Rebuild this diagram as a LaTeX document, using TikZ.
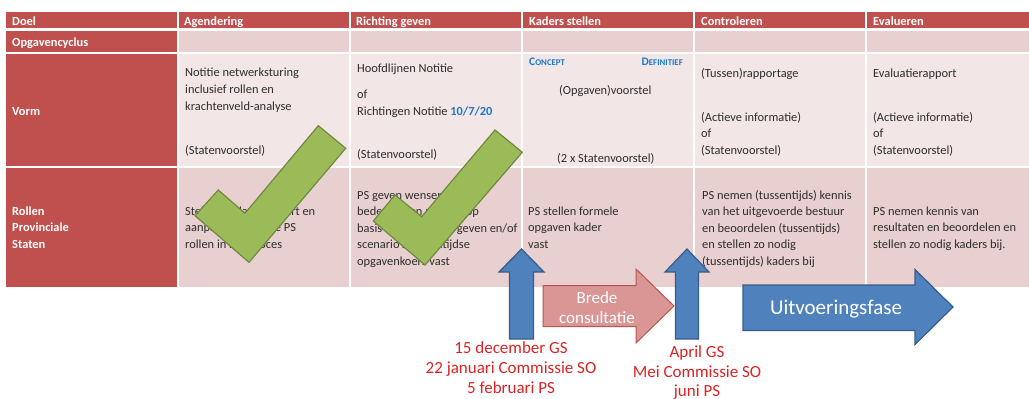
\documentclass[tikz,border=0pt]{standalone}
\usepackage{fontspec}
\setmainfont{Carlito}
\definecolor{hdr}{RGB}{192,80,77}
\definecolor{rowA}{RGB}{232,208,208}
\definecolor{rowB}{RGB}{242,230,230}
\definecolor{txt}{RGB}{45,45,45}
\definecolor{chkfill}{RGB}{155,187,89}
\definecolor{chkdraw}{RGB}{113,137,63}
\definecolor{bluefill}{RGB}{79,129,189}
\definecolor{bluedraw}{RGB}{56,93,138}
\definecolor{pinkfill}{RGB}{217,150,148}
\definecolor{pinkdraw}{RGB}{185,85,80}
\definecolor{redtxt}{RGB}{220,35,35}
\definecolor{bluetxt}{RGB}{30,120,200}
\newcommand\tx[4]{\node[t] (#1) at (#2,#3) {#4};}
\newcommand\hx[4]{\node[h] (#1) at (#2,#3) {#4};}
\newcommand\rx[4]{\node[r] (#1) at (#2,#3) {#4};}
\begin{document}
\begin{tikzpicture}[x=1pt,y=-1pt,
  t/.style={font=\fontsize{12.4}{14}\selectfont, text=txt, inner sep=0pt, anchor=base west},
  h/.style={font=\fontsize{12.4}{14}\selectfont\bfseries, text=white, inner sep=0pt, anchor=base west},
  r/.style={font=\fontsize{17}{20}\selectfont, text=redtxt, inner sep=0pt, anchor=base},
  chk/.style={fill=chkfill, draw=chkdraw, line width=1.2pt, line join=miter},
  barrow/.style={fill=bluefill, draw=bluedraw, line width=1.2pt},
  parrow/.style={fill=pinkfill, draw=pinkdraw, line width=1pt},
  sep/.style={draw=white, line width=1.5pt}]
\useasboundingbox (0,0) rectangle (1029,399);
% table backgrounds
\fill[hdr] (6,12) rectangle (1029,29);
\fill[hdr] (6,29) rectangle (178,287);
\fill[rowA] (178,29) rectangle (1029,53);
\fill[rowB] (178,53) rectangle (1029,167);
\fill[rowA] (178,167) rectangle (1029,287);
% white grid
\draw[draw=white, line width=3pt] (6,29.5) -- (1029,29.5);
\draw[sep] (6,53) -- (1029,53);
\draw[sep] (6,167) -- (1029,167);
\foreach \xx in {178,350,522,694,866} {\draw[sep] (\xx,12) -- (\xx,287);}
% header
\hx{h1}{12}{25}{Doel}
\hx{h2}{184}{25}{Agendering}
\hx{h3}{356}{25}{Richting geven}
\hx{h4}{529}{25}{Kaders stellen}
\hx{h5}{701}{25}{Controleren}
\hx{h6}{873}{25}{Evalueren}
\hx{opg}{12}{46.5}{Opgavencyclus}
\hx{vorm}{12}{115}{Vorm}
\hx{rol1}{12}{215}{Rollen}
\hx{rol2}{12}{231.5}{Provinciale}
\hx{rol3}{12}{248}{Staten}
% Vorm row
\tx{a1}{185}{76}{Notitie netwerksturing}
\tx{a2}{185}{93}{inclusief rollen en}
\tx{a3}{185}{110}{krachtenveld-analyse}
\tx{a4}{185}{154}{(Statenvoorstel)}
\tx{b1}{357}{72}{Hoofdlijnen Notitie}
\tx{b2}{357}{98}{of}
\tx{b3}{357}{115}{Richtingen Notitie {\bfseries\color{bluetxt}10/7/20}}
\tx{b4}{357}{158}{(Statenvoorstel)}
\node[inner sep=0pt, anchor=base west, text=bluetxt, font=\bfseries] (conc) at (529,65.5) {\fontsize{11.5}{13}\selectfont C\fontsize{8.8}{10}\selectfont ONCEPT};
\node[inner sep=0pt, anchor=base east, text=bluetxt, font=\bfseries] (defi) at (683,65.5) {\fontsize{11.5}{13}\selectfont D\fontsize{8.8}{10}\selectfont EFINITIEF};
\tx{c1}{559}{94}{(Opgaven)voorstel}
\tx{c2}{557}{162}{(2 x Statenvoorstel)}
\tx{d1}{701}{77}{(Tussen)rapportage}
\tx{d2}{701}{121}{(Actieve informatie)}
\tx{d3}{701}{137}{of}
\tx{d4}{701}{154}{(Statenvoorstel)}
\tx{e1}{873}{77}{Evaluatierapport}
\tx{e2}{873}{121}{(Actieve informatie)}
\tx{e3}{873}{137}{of}
\tx{e4}{873}{154}{(Statenvoorstel)}
% Rollen row
\tx{ra1}{185}{215}{Stelt agenda vast, start en}
\tx{ra2}{185}{231.5}{aanpak, bepaalt de PS}
\tx{ra3}{185}{248}{rollen in het proces}
\tx{rb1}{357}{199}{PS geven wensen en}
\tx{rb2}{357}{215.5}{bedenkingen mee en op}
\tx{rb3}{357}{232}{basis van de notitie geven en/of}
\tx{rb4}{357}{248.5}{scenario's tussentijdse}
\tx{rb5}{357}{265}{opgavenkoers vast}
\tx{rc1}{528}{215}{PS stellen formele}
\tx{rc2}{528}{231.5}{opgaven kader}
\tx{rc3}{528}{248}{vast}
\tx{rd1}{702}{199}{PS nemen (tussentijds) kennis}
\tx{rd2}{702}{215.5}{van het uitgevoerde bestuur}
\tx{rd3}{702}{232}{en beoordelen (tussentijds)}
\tx{rd4}{702}{248.5}{en stellen zo nodig}
\tx{rd5}{702}{265}{(tussentijds) kaders bij}
\tx{re1}{873}{215}{PS nemen kennis van}
\tx{re2}{873}{231.5}{resultaten en beoordelen en}
\tx{re3}{873}{248}{stellen zo nodig kaders bij.}
% check marks
\draw[chk] (195,215.7) -- (218.3,190) -- (245,213.3) -- (318.3,125.7) -- (345.7,148.3) -- (249,262.3) -- cycle;
\draw[chk] (373.3,221) -- (395,195) -- (421.7,216.7) -- (495,130) -- (522.3,152.3) -- (425,265) -- cycle;
% blue up arrows
\draw[barrow] (509.5,339) -- (509.5,272) -- (499,272) -- (521.5,249) -- (544,272) -- (533.5,272) -- (533.5,339) -- cycle;
\draw[barrow] (675.5,339) -- (675.5,272) -- (665,272) -- (687,249) -- (709,272) -- (698.5,272) -- (698.5,339) -- cycle;
% pink arrow
\draw[parrow] (543,285.5) -- (636,285.5) -- (636,269) -- (674,306) -- (636,343) -- (636,326.5) -- (543,326.5) -- cycle;
\node[text=white, inner sep=0pt, anchor=base, font=\fontsize{17}{20}\selectfont] (brede1) at (597,303.5) {Brede};
\node[text=white, inner sep=0pt, anchor=base, font=\fontsize{17}{20}\selectfont] (brede2) at (597,323) {consultatie};
% blue right arrow
\draw[barrow] (743,285) -- (915,285) -- (915,269.5) -- (953,307) -- (915,344.5) -- (915,330.5) -- (743,330.5) -- cycle;
\node[text=white, inner sep=0pt, anchor=base, font=\fontsize{21}{24}\selectfont] (uitv) at (836,314.5) {Uitvoeringsfase};
% red dates
\rx{g1}{511}{353.5}{15 december GS}
\rx{g2}{511}{373.5}{22 januari Commissie SO}
\rx{g3}{511}{393}{5 februari PS}
\rx{k1}{697}{357.5}{April GS}
\rx{k2}{697}{377}{Mei Commissie SO}
\rx{k3}{697}{396.5}{juni PS}
\end{tikzpicture}
\end{document}
